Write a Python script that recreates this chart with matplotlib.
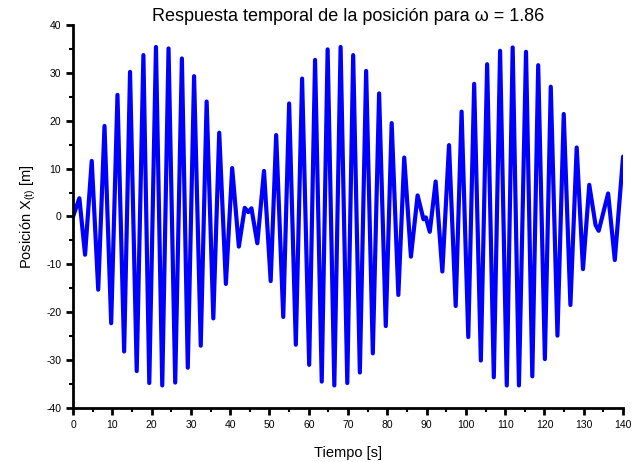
import numpy as np
import matplotlib
matplotlib.use("Agg")
import matplotlib.pyplot as plt
from matplotlib.ticker import MultipleLocator

plt.rcParams['font.family'] = ['Liberation Sans', 'DejaVu Sans']
plt.rcParams['mathtext.fontset'] = 'custom'
plt.rcParams['mathtext.rm'] = 'Liberation Sans'
plt.rcParams['mathtext.it'] = 'Liberation Sans'
plt.rcParams['mathtext.default'] = 'regular'
plt.rcParams['axes.unicode_minus'] = False

#----------------------
# datos (extremos de la oscilacion)
#----------------------
tiempo = [0.0, 1.6, 3.05, 4.75, 6.4, 8.0, 9.7, 11.3, 13.0, 14.5, 16.2, 17.9,
          19.4, 21.1, 22.7, 24.3, 26.0, 27.7, 29.2, 30.8, 32.5, 34.0, 35.7,
          37.2, 38.9, 40.5, 42.2, 43.7, 44.6, 45.4, 46.9, 48.6, 50.3, 51.7,
          53.5, 55.0, 56.7, 58.3, 60.1, 61.6, 63.3, 64.8, 66.5, 68.1, 69.8,
          71.3, 73.0, 74.6, 76.3, 77.9, 79.6, 81.1, 82.8, 84.3, 86.0, 87.7,
          89.2, 89.8, 90.8, 92.3, 94.0, 95.7, 97.4, 98.9, 100.6, 102.1,
          103.8, 105.4, 107.1, 108.7, 110.4, 111.9, 113.5, 115.3, 116.9,
          118.4, 120.1, 121.6, 123.3, 124.9, 126.6, 128.2, 129.8, 131.4,
          133.0, 133.8, 136.2, 137.9, 140.0]
posicion = [0.0, 3.8, -8.0, 11.6, -15.3, 18.9, -22.3, 25.4, -28.2, 30.2,
            -32.3, 33.7, -34.8, 35.4, -35.3, 35.1, -34.7, 33.0, -31.6, 29.3,
            -27.0, 24.0, -21.3, 17.5, -14.1, 10.1, -6.3, 1.8, 0.9, 1.7, -5.6,
            9.5, -13.5, 17.0, -21.0, 23.6, -26.8, 28.8, -31.0, 32.7, -34.5,
            34.9, -35.3, 35.4, -34.8, 33.7, -32.6, 30.4, -28.6, 25.7, -22.9,
            19.5, -16.4, 12.3, -8.4, 4.4, -0.6, -0.2, -3.2, 7.3, -11.5, 14.9,
            -18.7, 21.9, -25.2, 27.7, -30.1, 31.8, -33.6, 34.6, -35.3, 35.3,
            -35.3, 34.4, -33.4, 31.6, -29.8, 27.1, -24.9, 21.4, -18.5, 14.4,
            -11.0, 6.6, -1.8, -3.0, 4.8, -9.1, 12.5]

#----------------------
# grafica
#----------------------
fig = plt.figure(figsize=(6.41, 4.62), dpi=100)
ax = fig.add_axes([0.114, 0.117, 0.858, 0.829])

ax.plot(tiempo, posicion, color="#0000FF", lw=3.0,
        solid_joinstyle="round", solid_capstyle="round")

ax.set_xlim(0, 140)
ax.set_ylim(-40, 40)
ax.xaxis.set_major_locator(MultipleLocator(10))
ax.xaxis.set_minor_locator(MultipleLocator(5))
ax.yaxis.set_major_locator(MultipleLocator(10))
ax.yaxis.set_minor_locator(MultipleLocator(5))

ax.spines["top"].set_visible(False)
ax.spines["right"].set_visible(False)
ax.spines["left"].set_linewidth(2.0)
ax.spines["bottom"].set_linewidth(2.0)
ax.tick_params(which="major", direction="out", length=5, width=2, labelsize=7.5, colors="black")
ax.tick_params(which="minor", direction="out", length=3, width=1.5)

ax.set_title("Respuesta temporal de la posición para ω = 1.86", fontsize=13, pad=3)
ax.set_xlabel("Tiempo [s]", fontsize=10.5, labelpad=12)
ax.set_ylabel("Posición X$_{(t)}$ [m]", fontsize=10.5, labelpad=6)

fig.savefig("out.png", dpi=100)
